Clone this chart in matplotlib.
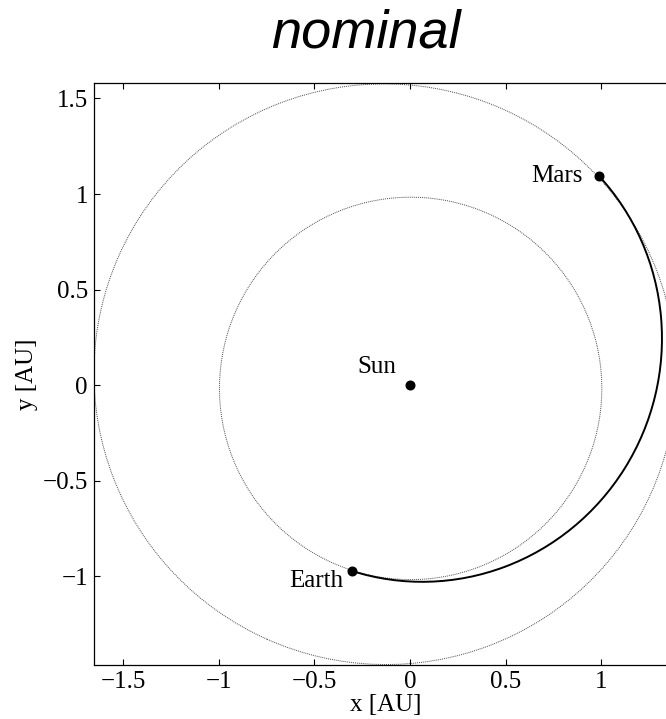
import numpy as np
import matplotlib
matplotlib.use("Agg")
import matplotlib.pyplot as plt
from matplotlib.patches import Ellipse, Arc

# ---- data ----
body_names = ["Sun", "Earth", "Mars"]
body_x = [0.0, -0.304, 0.989]
body_y = [0.0, -0.969, 1.096]

orbit_names = ["Earth", "Mars"]
orbit_a = [1.000, 1.524]          # semi-major axis [AU]
orbit_e = [0.0167, 0.0934]        # eccentricity
orbit_peri = [102.9, 336.0]       # longitude of perihelion [deg]

transfer_a = 1.2605
transfer_e = 0.193
transfer_peri = 251.1

x_ticks = [-1.5, -1, -0.5, 0, 0.5, 1]
y_ticks = [-1, -0.5, 0, 0.5, 1, 1.5]

serif = "Liberation Serif"

fig = plt.figure(figsize=(6.66, 7.19), dpi=100)
W, H = 666.0, 719.0
left_px, right_px, top_px, bot_px = 93.5, 677.0, 83.0, 664.5
ax = fig.add_axes([left_px / W, 1 - bot_px / H, (right_px - left_px) / W, (bot_px - top_px) / H])

scale = 191.2
x0 = -1.655
ax.set_xlim(x0, x0 + (right_px - left_px) / scale)
y1 = 1.581
ax.set_ylim(y1 - (bot_px - top_px) / scale, y1)


def conic_center(a, e, peri):
    w = np.radians(peri)
    return (-a * e * np.cos(w), -a * e * np.sin(w))


# planetary orbits
for a, e, w in zip(orbit_a, orbit_e, orbit_peri):
    b = a * np.sqrt(1 - e ** 2)
    c = conic_center(a, e, w)
    ax.add_patch(Ellipse(c, 2 * a, 2 * b, angle=w, fill=False,
                         edgecolor="0.3", linewidth=0.7, linestyle=(0, (1, 1))))

# transfer arc
tb = transfer_a * np.sqrt(1 - transfer_e ** 2)
tc = conic_center(transfer_a, transfer_e, transfer_peri)
th1 = np.degrees(np.arctan2(body_y[1] - tc[1], body_x[1] - tc[0])) - transfer_peri
th2 = np.degrees(np.arctan2(body_y[2] - tc[1], body_x[2] - tc[0])) - transfer_peri
th1 = th1 % 360
th2 = th2 % 360
if th1 > 180:
    th1 -= 360
ax.add_patch(Arc(tc, 2 * transfer_a, 2 * tb, angle=transfer_peri,
                 theta1=th1, theta2=th2, edgecolor="k", linewidth=1.4))

# bodies
ax.plot(body_x, body_y, linestyle="none", marker="o", color="k", markersize=6.2, zorder=5)

offsets = {"Sun": (-10, 9), "Earth": (-6, -11.7), "Mars": (-11.7, -4.8)}
for name, x, y in zip(body_names, body_x, body_y):
    ax.annotate(name, (x, y), xytext=offsets[name], textcoords="offset points",
                ha="right", va="baseline", fontsize=18, family=serif)

ax.set_xticks(x_ticks)
ax.set_yticks(y_ticks)
ax.set_xticklabels([("\u2212" if v < 0 else "") + ("%g" % abs(v)) for v in x_ticks], family=serif, fontsize=18)
ax.set_yticklabels([("\u2212" if v < 0 else "") + ("%g" % abs(v)) for v in y_ticks], family=serif, fontsize=18)
ax.tick_params(direction="in", length=4.3, width=0.8, top=True, right=False)
ax.tick_params(axis="x", pad=5)
ax.tick_params(axis="y", pad=4)
for s in ax.spines.values():
    s.set_linewidth(0.9)
ax.spines["right"].set_visible(False)

ax.set_xlabel("x [AU]", family=serif, fontsize=18)
ax.set_ylabel("y [AU]", family=serif, fontsize=18)
ax.xaxis.set_label_coords(0.5, -0.05)
ax.yaxis.set_label_coords(-0.095, 0.5)

fig.text(366 / W, 1 - 48 / H, "nominal", ha="center", va="baseline",
         fontsize=39, style="italic", family="Liberation Sans")

fig.savefig("out.png", dpi=100)
